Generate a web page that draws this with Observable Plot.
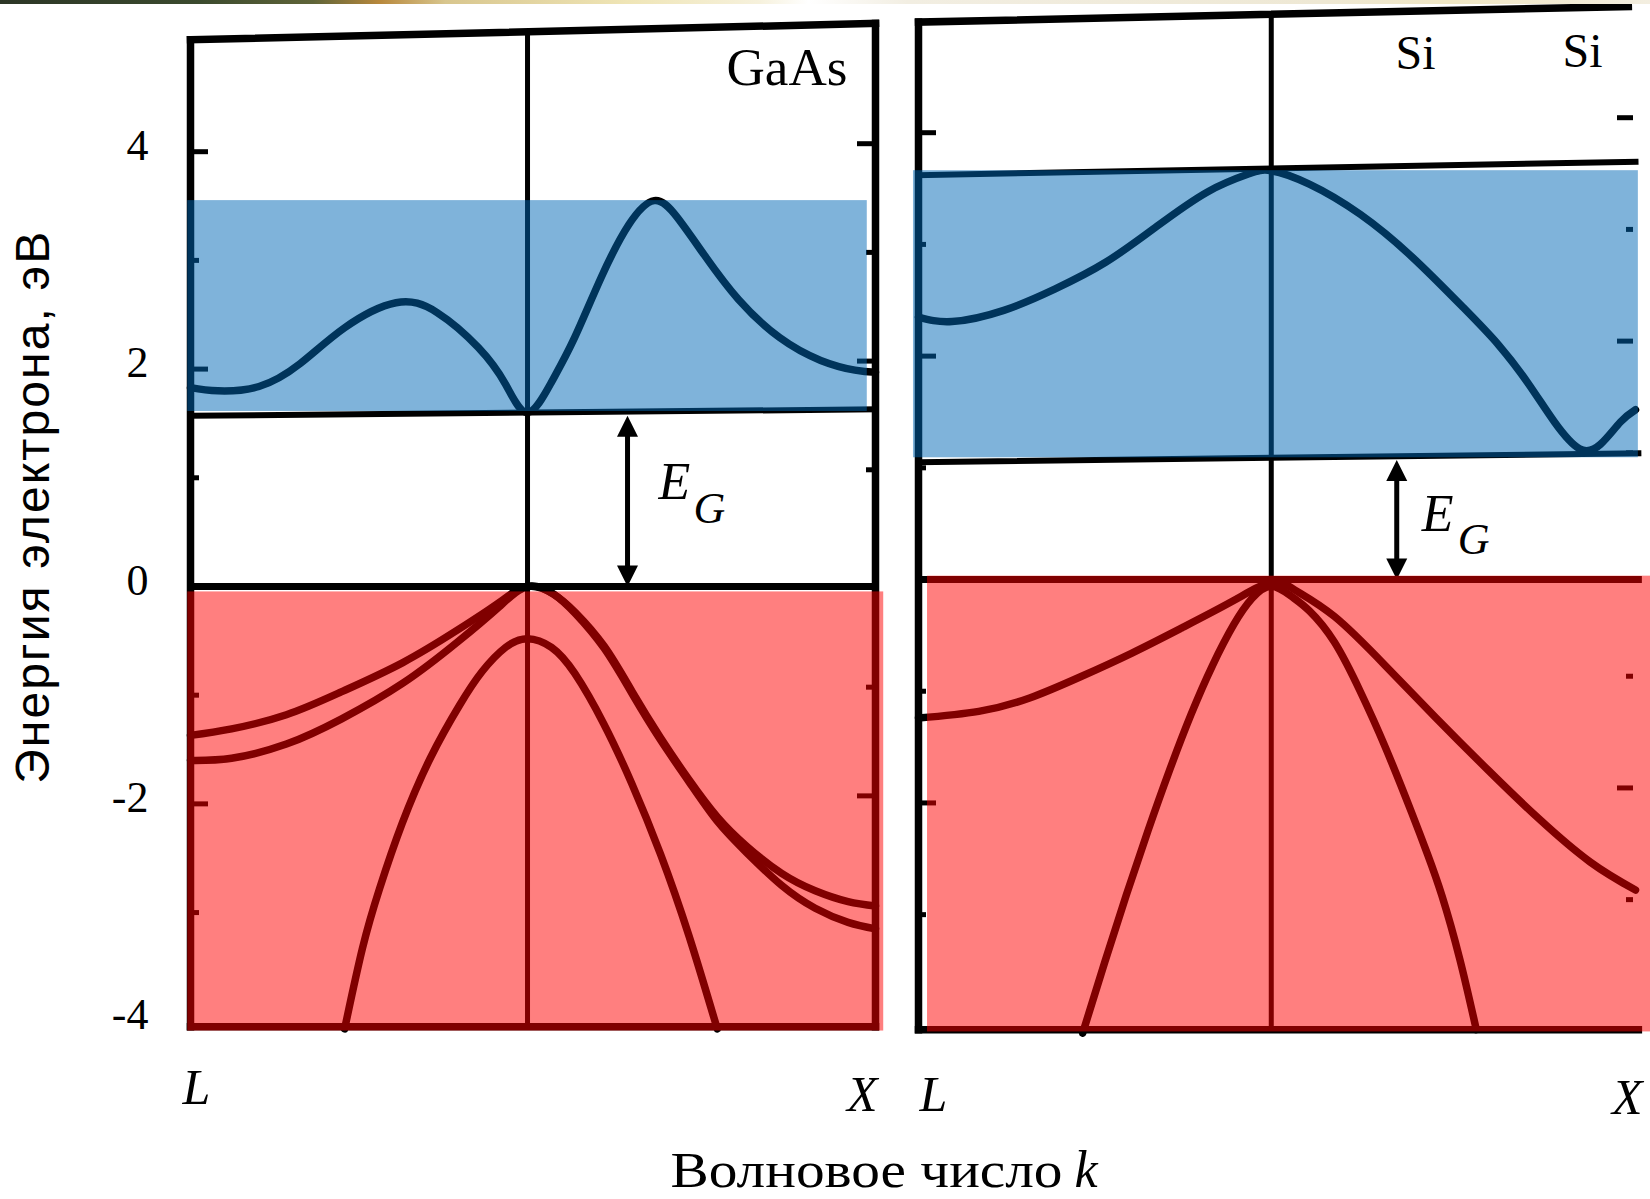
<!DOCTYPE html>
<html>
<head>
<meta charset="utf-8">
<script src="https://cdn.jsdelivr.net/npm/d3@7"></script>
<script src="https://cdn.jsdelivr.net/npm/@observablehq/plot@0.6"></script>
<style>
  body { margin: 0; background: #fff; }
  #page { position: relative; width: 1650px; height: 1199px; overflow: hidden; background: #fff; }
  #strip {
    position: absolute; left: 0; top: 0; width: 1650px; height: 4px; z-index: 3;
    background: linear-gradient(to right, #2c3626 0%, #3b4a2e 12%, #5f6438 19%, #b8883c 23%,
      #d8c68e 27%, #efe5b6 38%, #f6f1dc 46%, #ffffff 49%, #f2eee2 55%, #eee8d4 80%, #efe6c4 88%, #f3eee0 100%);
  }
  #page svg { position: absolute; left: 0; top: 0; }
</style>
</head>
<body>
<div id="page"><div id="strip"></div></div>
<script>
// Wave vector runs L -> Γ -> X, normalised to [0, 1]; Γ sits at GAMMA.
const GAMMA = 0.492;

// ---- GaAs bands: [k, E (eV)] ----
const gaasConduction = [
  [0, 1.83], [0.04, 1.80], [0.10, 1.84], [0.16, 2.05], [0.225, 2.38], [0.30, 2.61],
  [0.36, 2.52], [0.42, 2.20], [0.46, 1.86], [0.492, 1.60], [0.527, 1.88], [0.56, 2.28],
  [0.60, 2.85], [0.64, 3.33], [0.677, 3.55], [0.71, 3.40], [0.75, 3.05], [0.80, 2.64],
  [0.86, 2.29], [0.92, 2.08], [0.97, 1.99], [1, 1.97]
];
const gaasHeavyHole = [
  [0, -1.37], [0.06, -1.31], [0.14, -1.18], [0.22, -0.97], [0.31, -0.70], [0.39, -0.40],
  [0.45, -0.15], [0.492, 0], [0.53, -0.07], [0.562, -0.24], [0.604, -0.55], [0.645, -0.97],
  [0.686, -1.39], [0.728, -1.78], [0.769, -2.12], [0.812, -2.39], [0.863, -2.64],
  [0.912, -2.80], [0.96, -2.90], [1, -2.94]
];
const gaasLightHole = [
  [0, -1.60], [0.06, -1.58], [0.14, -1.45], [0.22, -1.22], [0.31, -0.89], [0.39, -0.51],
  [0.45, -0.19], [0.492, 0], [0.53, -0.07], [0.562, -0.25], [0.604, -0.57], [0.645, -0.99],
  [0.686, -1.41], [0.728, -1.80], [0.769, -2.16], [0.812, -2.45], [0.863, -2.75],
  [0.912, -2.96], [0.96, -3.09], [1, -3.15]
];
const gaasSplitOff = [
  [0.225, -4.07], [0.251, -3.33], [0.276, -2.78], [0.309, -2.18], [0.350, -1.58],
  [0.393, -1.09], [0.426, -0.78], [0.46, -0.56], [0.492, -0.48], [0.527, -0.56],
  [0.561, -0.80], [0.603, -1.26], [0.644, -1.81], [0.686, -2.46], [0.728, -3.22], [0.769, -4.07]
];

// ---- Si bands: [k, E (eV)] ----
const siConduction = [
  [0, 2.35], [0.047, 2.31], [0.119, 2.41], [0.19, 2.60], [0.261, 2.84], [0.332, 3.16],
  [0.403, 3.47], [0.46, 3.63], [0.492, 3.66], [0.545, 3.54], [0.616, 3.27], [0.688, 2.89],
  [0.759, 2.44], [0.809, 2.10], [0.851, 1.75], [0.887, 1.41], [0.922, 1.17], [0.951, 1.21],
  [0.979, 1.41], [1, 1.52]
];
const siValenceUpper = [
  [0, -1.24], [0.084, -1.18], [0.155, -1.06], [0.226, -0.87], [0.297, -0.66], [0.368, -0.43],
  [0.439, -0.19], [0.492, -0.02], [0.524, -0.09], [0.58, -0.33], [0.651, -0.77],
  [0.722, -1.24], [0.795, -1.71], [0.865, -2.14], [0.937, -2.53], [1, -2.78]
];
const siValenceLower = [
  [0.229, -4.06], [0.26, -3.42], [0.29, -2.82], [0.32, -2.25], [0.35, -1.71], [0.38, -1.21],
  [0.41, -0.77], [0.44, -0.40], [0.465, -0.17], [0.492, -0.06], [0.52, -0.15], [0.545, -0.28],
  [0.58, -0.56], [0.616, -1.00], [0.651, -1.50], [0.688, -2.09], [0.71, -2.46], [0.73, -2.83],
  [0.755, -3.40], [0.778, -4.03]
];

// Shaded energy ranges
const gaasShading = [
  {band: "conduction", k1: -0.004, k2: 0.988, e1: 1.61, e2: 3.55},
  {band: "valence", k1: -0.004, k2: 1.012, e1: -4.09, e2: -0.05}
];
const siShading = [
  {band: "conduction", k1: -0.007, k2: 1.004, e1: 1.09, e2: 3.66},
  {band: "valence", k1: 0.0126, k2: 1.021, e1: -4.05, e2: 0.03}
];

// Band gaps (arrow position along k, valence top, conduction bottom)
const gaasGap = [{k: 0.638, lo: 0, hi: 1.57}];
const siGap = [{k: 0.667, lo: 0, hi: 1.07}];

// Frame and guide segments [[k1, E1], [k2, E2]]
const gaasFrame = [
  [[0, -4.05], [0, 5.03]], [[1, -4.05], [1, 5.18]],
  [[0, 5.03], [1, 5.18]], [[0, -4.05], [1, -4.05]]
];
const gaasGuides = [[[0, 0], [1, 0]]];
const gaasEdge = [[[0, 1.57], [1, 1.63]]];
const gaasGamma = [[[GAMMA, -4.05], [GAMMA, 5.1]]];

const siFrame = [
  [[0, -4.03], [0, 4.99]], [[0, 4.99], [0.99, 5.13]], [[0, -4.03], [1.004, -4.03]]
];
const siGuides = [[[0, 0], [1.004, 0]]];
const siEdge = [[[0, 1.05], [1.004, 1.13]], [[0, 3.62], [1, 3.74]]];
const siGamma = [[[GAMMA, -4.03], [GAMMA, 5.06]]];

// Axis ticks and labels
const majorTicks = [4, 2, -2];
const minorTicks = [3, 1, -1, -3];
const tickLabels = [4, 2, 0, -2, -4];
const yTitle = "Энергия электрона, эВ";
const xTitle = "Волновое число";
const xVar = "k";

const serif = "'Liberation Serif', 'Times New Roman', serif";
const sans = "'Liberation Sans', Arial, sans-serif";
const W = 1650, H = 1199;

const bandLine = data => Plot.line(data, {
  x: d => d[0], y: d => d[1], curve: "natural",
  stroke: "black", strokeWidth: 7.5, strokeLinecap: "round", strokeLinejoin: "round"
});
const segments = (data, sw) => Plot.link(data, {
  x1: d => d[0][0], y1: d => d[0][1], x2: d => d[1][0], y2: d => d[1][1],
  stroke: "black", strokeWidth: sw, strokeLinecap: "square"
});
const shading = data => Plot.rect(data, {
  x1: "k1", x2: "k2", y1: "e1", y2: "e2",
  fill: d => d.band === "conduction" ? "#0067b5" : "#ff0000", fillOpacity: 0.5
});

// filled arrowheads with the tip at the origin
const headUp = {draw(ctx) { ctx.moveTo(0, 0); ctx.lineTo(10.5, 21); ctx.lineTo(-10.5, 21); ctx.closePath(); }};
const headDown = {draw(ctx) { ctx.moveTo(0, 0); ctx.lineTo(10.5, -21); ctx.lineTo(-10.5, -21); ctx.closePath(); }};
const gapArrow = (gap, pad) => [
  Plot.link(gap, {x1: "k", x2: "k", y1: d => d.lo + pad, y2: d => d.hi - pad, stroke: "black", strokeWidth: 5}),
  Plot.dot(gap, {x: "k", y: "hi", symbol: headUp, fill: "black", stroke: null}),
  Plot.dot(gap, {x: "k", y: "lo", symbol: headDown, fill: "black", stroke: null})
];
const gapLabel = (gap, dxE, dyE, dxG, dyG) => [
  Plot.text(gap, {x: "k", y: d => (d.lo + d.hi) / 2, text: () => "E", dx: dxE, dy: dyE,
    textAnchor: "start", lineAnchor: "bottom", fontSize: 52, fontStyle: "italic", fontFamily: serif, fill: "black"}),
  Plot.text(gap, {x: "k", y: d => (d.lo + d.hi) / 2, text: () => "G", dx: dxG, dy: dyG,
    textAnchor: "start", lineAnchor: "bottom", fontSize: 44, fontStyle: "italic", fontFamily: serif, fill: "black"})
];
const ticks = (values, side, len, frameW, dy, inset = 0) => Plot.tickY(values, {
  y: d => d, stroke: "black", strokeWidth: 5, dy,
  insetLeft: side === "left" ? 0 : frameW - len - inset,
  insetRight: side === "left" ? frameW - len : inset
});

// ---------- GaAs panel ----------
const gaasFrameW = 685;
const gaas = Plot.plot({
  width: W, height: H,
  marginLeft: 190, marginRight: W - 875, marginTop: 42.5, marginBottom: H - 1026.2,
  x: {domain: [0, 1], axis: null},
  y: {domain: [-4.05, 5], axis: null},
  style: {background: "white", overflow: "visible"},
  marks: [
    ticks(majorTicks, "left", 18, gaasFrameW, 0),
    ticks(minorTicks, "left", 9, gaasFrameW, 0),
    ticks(majorTicks, "right", 18, gaasFrameW, -8),
    ticks(minorTicks, "right", 9, gaasFrameW, -8),
    segments(gaasGamma, 5),
    segments(gaasEdge, 6),
    segments(gaasGuides, 7),
    segments(gaasFrame, 7.5),
    bandLine(gaasConduction),
    bandLine(gaasHeavyHole),
    bandLine(gaasLightHole),
    bandLine(gaasSplitOff),
    ...gapArrow(gaasGap, 0.1),
    shading(gaasShading),
    ...gapLabel(gaasGap, 31, -2, 66, 22),
    Plot.text(["GaAs"], {frameAnchor: "top-left", dx: 536, dy: 41.5, textAnchor: "start", lineAnchor: "bottom",
      fontSize: 52, fontFamily: serif, fill: "black", ariaDescription: "panel-gaas"}),
    Plot.text(tickLabels, {y: d => d, frameAnchor: "left", text: d => String(d), textAnchor: "end",
      dx: -42, dy: -6, fontSize: 44, fontFamily: serif, fill: "black"}),
    Plot.text([yTitle], {frameAnchor: "left", rotate: -90, dx: -157, dy: -27, textAnchor: "middle",
      lineAnchor: "middle", fontSize: 48, fontFamily: sans, fill: "black", ariaDescription: "y-title"}),
    Plot.text(["L"], {frameAnchor: "bottom-left", dx: -8, dy: 77, textAnchor: "start", lineAnchor: "bottom",
      fontSize: 50, fontStyle: "italic", fontFamily: serif, fill: "black"}),
    Plot.text(["X"], {frameAnchor: "bottom-right", dx: 2, dy: 84, textAnchor: "end", lineAnchor: "bottom",
      fontSize: 50, fontStyle: "italic", fontFamily: serif, fill: "black"}),
    Plot.text([xTitle], {frameAnchor: "bottom-left", dx: 480, dy: 160, textAnchor: "start", lineAnchor: "bottom",
      fontSize: 50, fontFamily: serif, fill: "black", ariaDescription: "x-title"}),
    Plot.text([xVar], {frameAnchor: "bottom-left", dx: 884, dy: 160, textAnchor: "start", lineAnchor: "bottom",
      fontSize: 52, fontStyle: "italic", fontFamily: serif, fill: "black"})
  ]
});

// ---------- Si panel ----------
const siFrameW = 717;
const si = Plot.plot({
  width: W, height: H,
  marginLeft: 918, marginRight: W - 1635, marginTop: 20.5, marginBottom: H - 1029.2,
  x: {domain: [0, 1], axis: null},
  y: {domain: [-4.03, 5], axis: null},
  style: {background: "transparent", overflow: "visible"},
  marks: [
    ticks(majorTicks, "left", 18, siFrameW, 0),
    ticks(minorTicks, "left", 8, siFrameW, 0),
    ticks(majorTicks, "right", 16, siFrameW, -15, 2),
    ticks(minorTicks, "right", 7, siFrameW, -15, 2),
    segments(siGamma, 5),
    segments(siEdge, 6),
    segments(siGuides, 7),
    segments(siFrame, 7.5),
    bandLine(siConduction),
    bandLine(siValenceUpper),
    bandLine(siValenceLower),
    ...gapArrow(siGap, 0.1),
    shading(siShading),
    ...gapLabel(siGap, 25, 11, 61, 34),
    Plot.text(["Si"], {frameAnchor: "top-left", dx: 477, dy: 47.5, textAnchor: "start", lineAnchor: "bottom",
      fontSize: 48, fontFamily: serif, fill: "black"}),
    Plot.text(["Si"], {frameAnchor: "top-left", dx: 644, dy: 45.5, textAnchor: "start", lineAnchor: "bottom",
      fontSize: 48, fontFamily: serif, fill: "black"}),
    Plot.text(["L"], {frameAnchor: "bottom-left", dx: 1, dy: 81, textAnchor: "start", lineAnchor: "bottom",
      fontSize: 50, fontStyle: "italic", fontFamily: serif, fill: "black"}),
    Plot.text(["X"], {frameAnchor: "bottom-right", dx: 7, dy: 84, textAnchor: "end", lineAnchor: "bottom",
      fontSize: 50, fontStyle: "italic", fontFamily: serif, fill: "black"})
  ]
});

// stretch titles to their printed widths
const fit = (svg, tag, len, adjust) => d3.select(svg)
  .selectAll(`g[aria-description="${tag}"] text`)
  .attr("textLength", len).attr("lengthAdjust", adjust);
fit(gaas, "y-title", 552, "spacing");
fit(gaas, "x-title", 392, "spacingAndGlyphs");
fit(gaas, "panel-gaas", 121, "spacingAndGlyphs");

const page = document.getElementById("page");
page.appendChild(gaas);
page.appendChild(si);
</script>
</body>
</html>
